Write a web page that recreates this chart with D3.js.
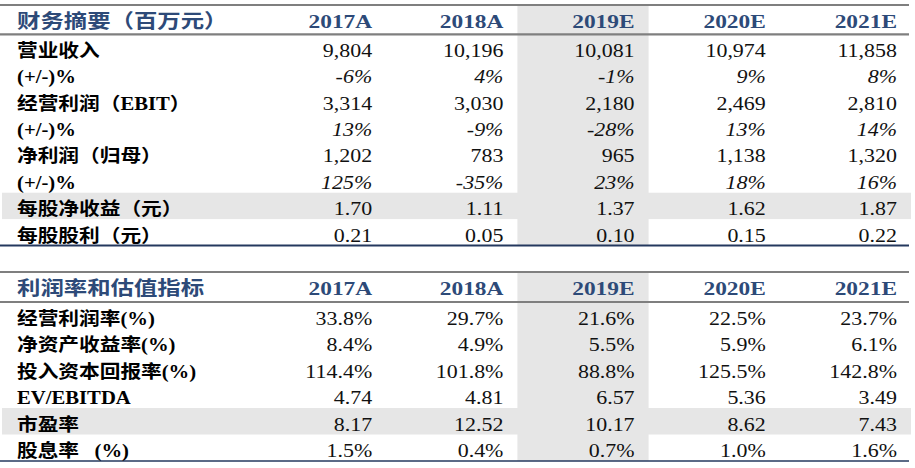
<!DOCTYPE html>
<html><head><meta charset="utf-8">
<script src="https://cdn.jsdelivr.net/npm/d3@7"></script>
<style>body{margin:0;background:#fff}</style>
</head><body><svg id="c" width="915" height="468"></svg>
<script>
// ---------- data ----------
const years = ["2017A","2018A","2019E","2020E","2021E"];
const table1Title = "财务摘要（百万元）";
const table1Labels = ["营业收入","(+/-)%","经营利润（EBIT）","(+/-)%","净利润（归母）","(+/-)%","每股净收益（元）","每股股利（元）"];
const revenue = [9804,10196,10081,10974,11858];
const revenueGrowth = [-6,4,-1,9,8];
const ebit = [3314,3030,2180,2469,2810];
const ebitGrowth = [13,-9,-28,13,14];
const netProfit = [1202,783,965,1138,1320];
const netProfitGrowth = [125,-35,23,18,16];
const eps = [1.70,1.11,1.37,1.62,1.87];
const dps = [0.21,0.05,0.10,0.15,0.22];

const table2Title = "利润率和估值指标";
const table2Labels = ["经营利润率(%)","净资产收益率(%)","投入资本回报率(%)","EV/EBITDA","市盈率","股息率   (%)"];
const opMargin = [33.8,29.7,21.6,22.5,23.7];
const roe = [8.4,4.9,5.5,5.9,6.1];
const roic = [114.4,101.8,88.8,125.5,142.8];
const evEbitda = [4.74,4.81,6.57,5.36,3.49];
const pe = [8.17,12.52,10.17,8.62,7.43];
const dividendYield = [1.5,0.4,0.7,1.0,1.6];

// ---------- formats ----------
const fInt = d3.format(",");
const fPct0 = d => d + "%";
const f2 = d3.format(".2f");
const fPct1 = d => d3.format(".1f")(d) + "%";

const table1Series = [revenue, revenueGrowth, ebit, ebitGrowth, netProfit, netProfitGrowth, eps, dps];
const table1Fmts = [fInt, fPct0, fInt, fPct0, fInt, fPct0, f2, f2];
const table2Series = [opMargin, roe, roic, evEbitda, pe, dividendYield];
const table2Fmts = [fPct1, fPct1, fPct1, f2, f2, fPct1];

// ---------- layout ----------
const svg = d3.select("#c");
const SX = 1.2;
const blue = "#2d4a78";
const shade = "#e6e6e6";
const grayLine = "#7f7f7f";
const darkLine = "#24385e";
const serif = "'Liberation Serif','Times New Roman',serif";
const cjk = "'Liberation Serif','Noto Sans CJK SC',serif";

const x = d3.scaleBand().domain(years).range([255, 911]).paddingInner(0).paddingOuter(0);

function drawTable(opt){
  const g = svg.append("g");
  const y = d3.scaleBand().domain(d3.range(opt.labels.length)).range([opt.rowTop, opt.bottom]);
  g.append("rect").attr("x", x("2019E")).attr("y", opt.top).attr("width", x.bandwidth())
    .attr("height", opt.bottom - opt.top).attr("fill", shade);
  g.append("rect").attr("x", 2).attr("y", y(opt.shadeRow)).attr("width", 909).attr("height", y.bandwidth()).attr("fill", shade);
  g.append("line").attr("x1",0).attr("x2",909).attr("y1",opt.top).attr("y2",opt.top).attr("stroke",grayLine).attr("stroke-width",2.2);
  g.append("line").attr("x1",0).attr("x2",909).attr("y1",opt.rowTop).attr("y2",opt.rowTop).attr("stroke",grayLine).attr("stroke-width",2.2);
  g.append("line").attr("x1",0).attr("x2",909).attr("y1",opt.bottom).attr("y2",opt.bottom).attr("stroke",darkLine).attr("stroke-width",opt.bottomW);
  g.append("text").attr("transform",`translate(17,${opt.headBase}) scale(${SX},1)`)
    .attr("font-family",cjk).attr("font-weight","bold").attr("font-size",19.5).attr("fill",blue).text(opt.title);
  g.selectAll(".yh").data(years).join("text")
    .attr("transform", d => `translate(${x(d)+x.bandwidth()-14},${opt.headBase}) scale(${SX},1)`)
    .attr("text-anchor","end").attr("font-family",serif).attr("font-weight","bold").attr("font-size",19.5)
    .attr("fill",blue).text(d => d);
  opt.labels.forEach((lab, i) => {
    const base = y(i) + 22.5;
    const italic = lab === "(+/-)%";
    g.append("text").attr("transform",`translate(17,${base}) scale(1.15,1)`)
      .attr("xml:space","preserve")
      .attr("font-family",cjk).attr("font-weight","bold").attr("font-size",18).attr("fill","#000")
      .style("white-space","pre").text(lab);
    g.selectAll(null).data(opt.series[i]).join("text")
      .attr("transform",(d,j) => `translate(${x(years[j])+x.bandwidth()-14},${base}) scale(${SX},1)`)
      .attr("text-anchor","end").attr("font-family",serif).attr("font-size",18.3)
      .attr("font-style", italic ? "italic" : "normal").attr("fill","#111")
      .text(d => opt.fmts[i](d));
  });
}

drawTable({title: table1Title, labels: table1Labels, series: table1Series, fmts: table1Fmts,
  top: 5, rowTop: 34.3, bottom: 245.5, headBase: 28.3, shadeRow: 6, bottomW: 2.2});
drawTable({title: table2Title, labels: table2Labels, series: table2Series, fmts: table2Fmts,
  top: 272, rowTop: 302, bottom: 461, headBase: 295, shadeRow: 4, bottomW: 1.6});
</script></body></html>
